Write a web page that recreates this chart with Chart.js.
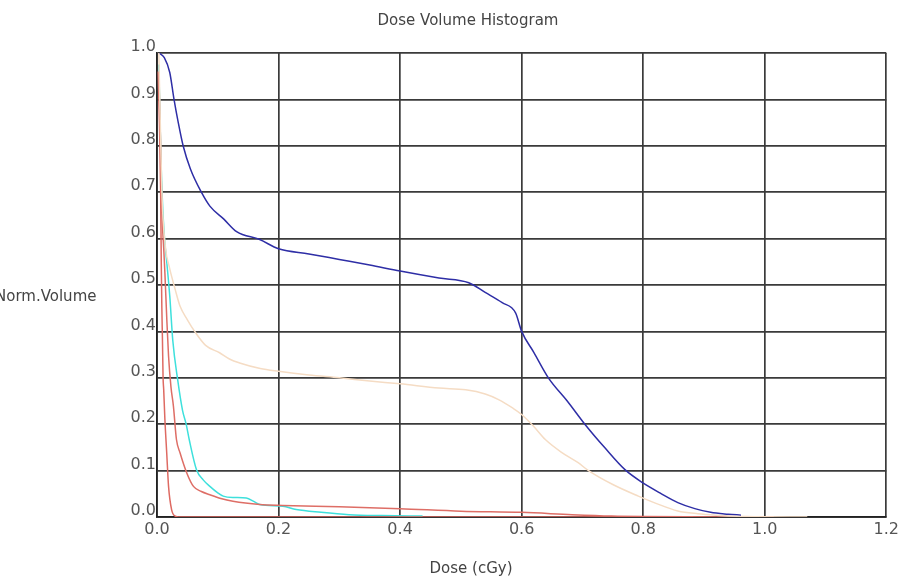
<!DOCTYPE html>
<html>
<head>
<meta charset="utf-8">
<script src="https://cdn.jsdelivr.net/npm/chart.js@4/dist/chart.umd.min.js"></script>
<style>
  body { margin: 0; background: #fff; }
  canvas { display: block; }
</style>
</head>
<body>
<canvas id="graficoDvh" width="902" height="581"></canvas>
<script>
// Eixos
const xTicks = [0.0, 0.2, 0.4, 0.6, 0.8, 1.0, 1.2];
const yTicks = [0.0, 0.1, 0.2, 0.3, 0.4, 0.5, 0.6, 0.7, 0.8, 0.9, 1.0];

// Curva azul
const blueDose = [0.003, 0.012, 0.021, 0.028, 0.035, 0.043, 0.055, 0.073, 0.087, 0.11, 0.131, 0.169, 0.2, 0.25, 0.3, 0.35, 0.4, 0.464, 0.513, 0.54, 0.568, 0.59, 0.6, 0.62, 0.644, 0.675, 0.704, 0.737, 0.77, 0.799, 0.83, 0.857, 0.885, 0.911, 0.94, 0.961];
const blueVol = [1.0, 0.99, 0.958, 0.9, 0.85, 0.80, 0.75, 0.70, 0.67, 0.642, 0.615, 0.598, 0.578, 0.567, 0.555, 0.543, 0.53, 0.515, 0.505, 0.484, 0.462, 0.44, 0.40, 0.355, 0.30, 0.25, 0.2, 0.149, 0.102, 0.074, 0.05, 0.031, 0.018, 0.010, 0.006, 0.004];

// Curva bege
const tanDose = [0.003, 0.008, 0.014, 0.02, 0.03, 0.038, 0.05, 0.062, 0.08, 0.103, 0.12, 0.136, 0.17, 0.2, 0.25, 0.3, 0.35, 0.4, 0.464, 0.508, 0.54, 0.562, 0.585, 0.6, 0.62, 0.639, 0.665, 0.693, 0.71, 0.75, 0.792, 0.82, 0.857, 0.89, 0.92, 0.97, 1.07];
const tanVol = [1.0, 0.7, 0.58, 0.54, 0.49, 0.454, 0.425, 0.40, 0.37, 0.354, 0.34, 0.332, 0.32, 0.314, 0.306, 0.30, 0.293, 0.287, 0.278, 0.274, 0.265, 0.253, 0.235, 0.221, 0.195, 0.167, 0.14, 0.117, 0.1, 0.07, 0.045, 0.03, 0.013, 0.007, 0.004, 0.001, 0];

// Curva ciano
const cyanDose = [0.003, 0.005, 0.007, 0.01, 0.013, 0.016, 0.021, 0.026, 0.034, 0.042, 0.048, 0.053, 0.065, 0.076, 0.087, 0.1, 0.109, 0.125, 0.147, 0.16, 0.169, 0.207, 0.229, 0.27, 0.316, 0.37, 0.437];
const cyanVol = [0.975, 0.85, 0.75, 0.65, 0.59, 0.55, 0.476, 0.38, 0.296, 0.23, 0.2, 0.167, 0.102, 0.08, 0.066, 0.052, 0.045, 0.042, 0.041, 0.033, 0.027, 0.023, 0.016, 0.01, 0.005, 0.003, 0.002];

// Curvas vermelhas
const red1Dose = [0.002, 0.004, 0.006, 0.007, 0.008, 0.009, 0.01, 0.011, 0.013, 0.016, 0.019, 0.024, 0.03, 0.04, 0.8];
const red1Vol = [0.96, 0.85, 0.70, 0.55, 0.45, 0.38, 0.3, 0.275, 0.21, 0.138, 0.066, 0.016, 0.002, 0, 0];
const red2Dose = [0.003, 0.006, 0.008, 0.011, 0.013, 0.016, 0.019, 0.023, 0.027, 0.032, 0.038, 0.049, 0.06, 0.073, 0.087, 0.105, 0.125, 0.169, 0.207, 0.3, 0.4, 0.5, 0.6, 0.683, 0.748, 0.8, 1.015];
const red2Vol = [0.95, 0.8, 0.66, 0.58, 0.526, 0.43, 0.347, 0.28, 0.239, 0.167, 0.138, 0.095, 0.066, 0.055, 0.048, 0.04, 0.034, 0.027, 0.025, 0.022, 0.018, 0.0125, 0.01, 0.005, 0.002, 0.001, 0];

function pares(doses, vols) {
  return doses.map((d, i) => ({ x: d, y: vols[i] }));
}

function serie(doses, vols, cor) {
  return {
    data: pares(doses, vols),
    borderColor: cor,
    borderWidth: 1.5,
    pointRadius: 0,
    cubicInterpolationMode: 'monotone',
    fill: false
  };
}

// Textos fora da área do gráfico
const textosPlugin = {
  id: 'textos',
  afterDraw(chart) {
    const ctx = chart.ctx;
    ctx.save();
    ctx.fillStyle = '#444';
    ctx.font = '15px "DejaVu Sans"';
    ctx.textBaseline = 'middle';
    ctx.textAlign = 'center';
    ctx.fillText('Dose Volume Histogram', 468, 21);
    ctx.fillText('Dose (cGy)', 471, 569);
    ctx.textAlign = 'left';
    ctx.fillText('Norm.Volume', -5, 297);
    ctx.restore();
  }
};

const ctx = document.getElementById('graficoDvh').getContext('2d');
new Chart(ctx, {
  type: 'line',
  data: {
    datasets: [
      serie(tanDose, tanVol, '#f5dcc4'),
      serie(red1Dose, red1Vol, '#de6a62'),
      serie(red2Dose, red2Vol, '#de6e66'),
      serie(cyanDose, cyanVol, '#3ee0dc'),
      serie(blueDose, blueVol, '#2e2ea6')
    ]
  },
  options: {
    responsive: false,
    animation: false,
    layout: {
      padding: { top: 53, right: 15, left: 0, bottom: 0 }
    },
    plugins: {
      legend: { display: false },
      tooltip: { enabled: false }
    },
    scales: {
      x: {
        type: 'linear',
        min: xTicks[0],
        max: xTicks[xTicks.length - 1],
        afterBuildTicks: function(scale) {
          scale.ticks = xTicks.map(v => ({ value: v }));
        },
        afterFit: function(scale) {
          scale.height = 64;
        },
        grid: { color: '#3a3a3a', lineWidth: 1.7, drawTicks: false },
        border: { color: '#222', width: 1.7 },
        ticks: {
          padding: 3,
          color: '#555',
          font: { family: 'DejaVu Sans', size: 16 },
          callback: function(value) {
            return value.toFixed(1);
          }
        }
      },
      y: {
        type: 'linear',
        min: yTicks[0],
        max: yTicks[yTicks.length - 1],
        afterBuildTicks: function(scale) {
          scale.ticks = yTicks.map(v => ({ value: v }));
        },
        afterFit: function(scale) {
          scale.width = 157;
        },
        grid: { color: '#3a3a3a', lineWidth: 1.7, drawTicks: false },
        border: { color: '#222', width: 1.7 },
        ticks: {
          padding: 1,
          labelOffset: -6,
          color: '#555',
          font: { family: 'DejaVu Sans', size: 16 },
          callback: function(value) {
            return value.toFixed(1);
          }
        }
      }
    }
  },
  plugins: [textosPlugin]
});
</script>
</body>
</html>
